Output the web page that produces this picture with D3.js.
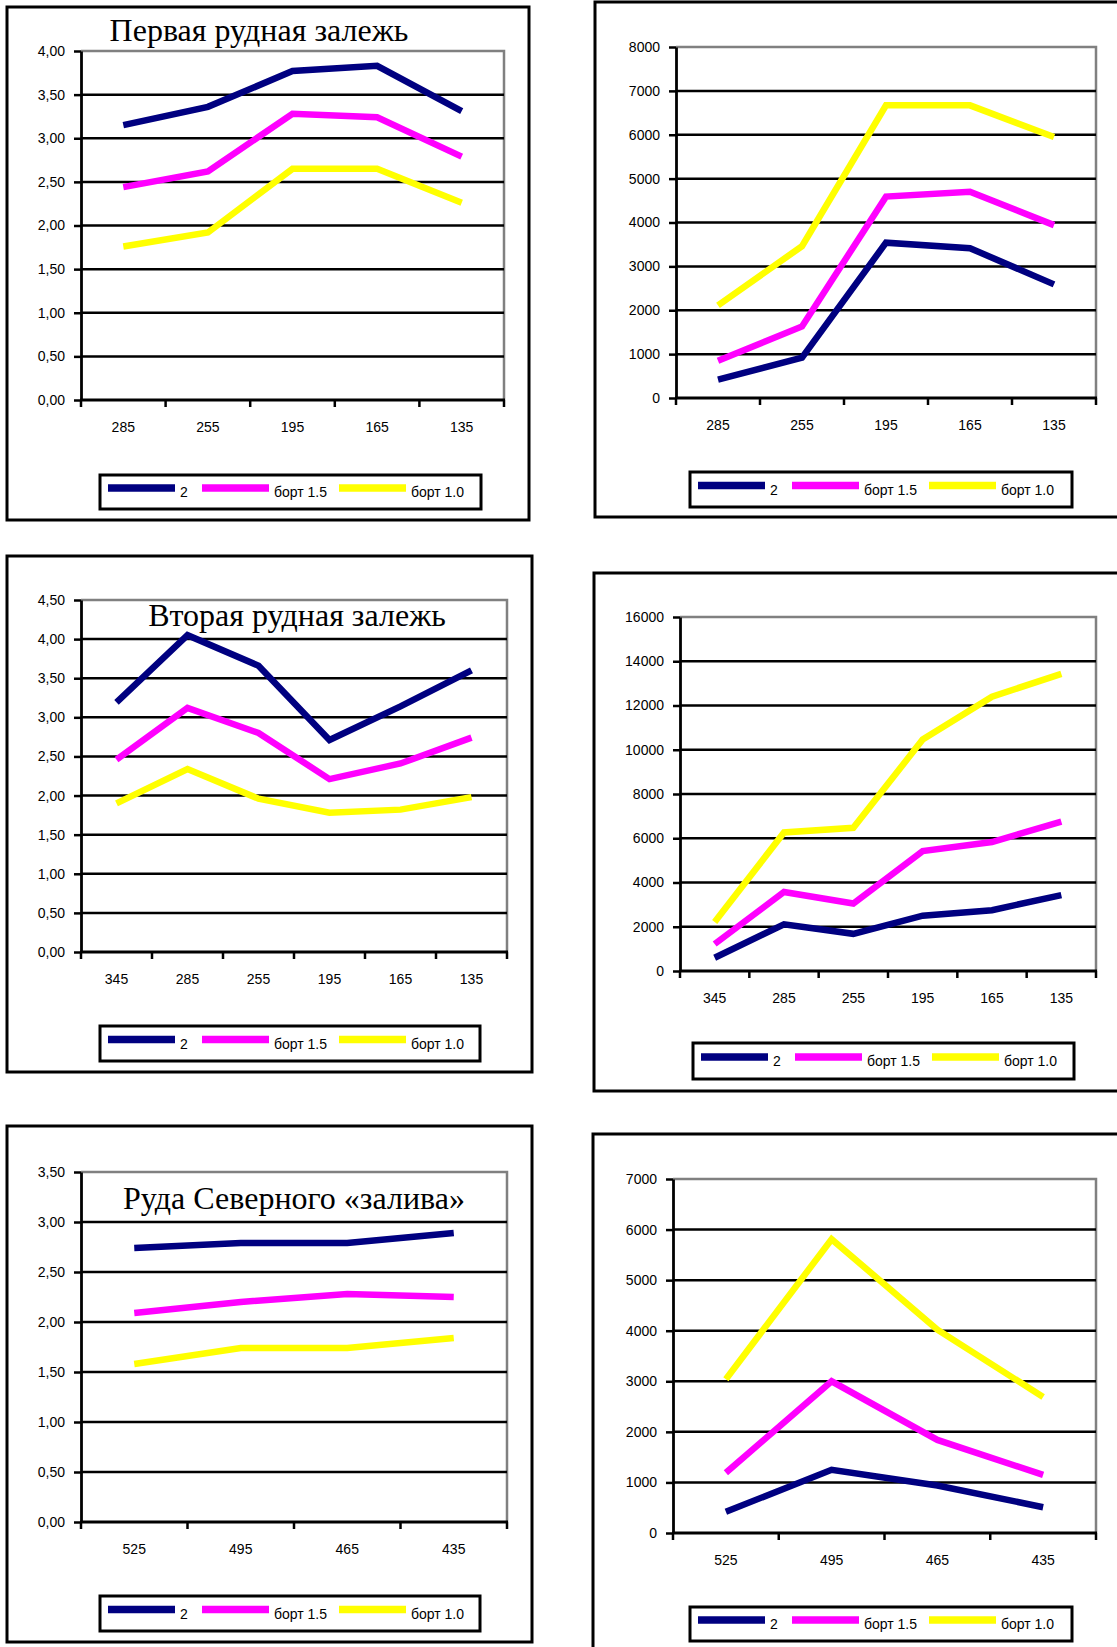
<!DOCTYPE html>
<html>
<head>
<meta charset="utf-8">
<script src="https://cdn.jsdelivr.net/npm/d3@7/dist/d3.min.js"></script>
<style>
  body { margin: 0; background: #fff; }
  svg { display: block; }
</style>
</head>
<body>
<script>
// depth levels (x categories)
const depthsA = ["285", "255", "195", "165", "135"];
const depthsB = ["345", "285", "255", "195", "165", "135"];
const depthsC = ["525", "495", "465", "435"];

const seriesNames = ["2", "борт 1.5", "борт 1.0"];
const seriesColors = ["#000080", "#ff00ff", "#ffff00"];

// Первая рудная залежь
const grade1Main = [3.15, 3.36, 3.77, 3.83, 3.31];
const grade1B15 = [2.44, 2.62, 3.28, 3.24, 2.79];
const grade1B10 = [1.76, 1.92, 2.65, 2.65, 2.26];
const tons1Main = [420, 920, 3540, 3415, 2590];
const tons1B15 = [850, 1630, 4590, 4700, 3940];
const tons1B10 = [2110, 3460, 6670, 6670, 5950];

// Вторая рудная залежь
const grade2Main = [3.19, 4.05, 3.66, 2.71, 3.14, 3.60];
const grade2B15 = [2.46, 3.12, 2.80, 2.21, 2.41, 2.74];
const grade2B10 = [1.90, 2.34, 1.96, 1.78, 1.82, 1.98];
const tons2Main = [600, 2110, 1680, 2500, 2750, 3430];
const tons2B15 = [1220, 3570, 3050, 5420, 5830, 6750];
const tons2B10 = [2210, 6260, 6470, 10460, 12400, 13430];

// Руда Северного «залива»
const grade3Main = [2.74, 2.79, 2.79, 2.89];
const grade3B15 = [2.09, 2.20, 2.28, 2.25];
const grade3B10 = [1.58, 1.74, 1.74, 1.84];
const tons3Main = [420, 1250, 940, 510];
const tons3B15 = [1190, 3000, 1840, 1150];
const tons3B10 = [3040, 5810, 4020, 2690];

// y tick values
const ticksGrade40 = [0, 0.5, 1, 1.5, 2, 2.5, 3, 3.5, 4];
const ticksGrade45 = [0, 0.5, 1, 1.5, 2, 2.5, 3, 3.5, 4, 4.5];
const ticksGrade35 = [0, 0.5, 1, 1.5, 2, 2.5, 3, 3.5];
const ticksTons8 = [0, 1000, 2000, 3000, 4000, 5000, 6000, 7000, 8000];
const ticksTons16 = [0, 2000, 4000, 6000, 8000, 10000, 12000, 14000, 16000];
const ticksTons7 = [0, 1000, 2000, 3000, 4000, 5000, 6000, 7000];

const W = 1117, H = 1647;
const svg = d3.select("body").append("svg")
    .attr("width", W)
    .attr("height", H);

const commaFmt = v => d3.format(".2f")(v).replace(".", ",");
const intFmt = d3.format("d");

// layout of the six panels
const panels = [
    { box: [7, 7, 529, 520], plot: [81, 51, 504, 400], legend: [100, 475, 481, 509],
      cats: depthsA, series: [grade1Main, grade1B15, grade1B10], ticks: ticksGrade40, fmt: commaFmt,
      title: "Первая рудная залежь", tx: 259, ty: 41 },
    { box: [595, 2, 1130, 517], plot: [676, 47, 1096, 398], legend: [690, 472, 1072, 507],
      cats: depthsA, series: [tons1Main, tons1B15, tons1B10], ticks: ticksTons8, fmt: intFmt },
    { box: [7, 556, 532, 1072], plot: [81, 600, 507, 952], legend: [100, 1026, 480, 1061],
      cats: depthsB, series: [grade2Main, grade2B15, grade2B10], ticks: ticksGrade45, fmt: commaFmt,
      title: "Вторая рудная залежь", tx: 297, ty: 626 },
    { box: [594, 573, 1130, 1091], plot: [680, 617, 1096, 971], legend: [693, 1043, 1074, 1079],
      cats: depthsB, series: [tons2Main, tons2B15, tons2B10], ticks: ticksTons16, fmt: intFmt },
    { box: [7, 1126, 532, 1642], plot: [81, 1172, 507, 1522], legend: [100, 1596, 480, 1631],
      cats: depthsC, series: [grade3Main, grade3B15, grade3B10], ticks: ticksGrade35, fmt: commaFmt,
      title: "Руда Северного «залива»", tx: 294, ty: 1209 },
    { box: [593, 1134, 1130, 1660], plot: [673, 1179, 1096, 1533], legend: [690, 1607, 1072, 1641],
      cats: depthsC, series: [tons3Main, tons3B15, tons3B10], ticks: ticksTons7, fmt: intFmt }
];

const legendOffsets = [8, 102, 239];

panels.forEach(p => {
    const g = svg.append("g");
    const [bx0, by0, bx1, by1] = p.box;
    const [x0, y0, x1, y1] = p.plot;

    g.append("rect")
        .attr("x", bx0).attr("y", by0)
        .attr("width", bx1 - bx0).attr("height", by1 - by0)
        .attr("fill", "#fff")
        .attr("stroke", "#000")
        .attr("stroke-width", 3);

    const x = d3.scaleBand().domain(p.cats).range([x0, x1]);
    const y = d3.scaleLinear().domain([0, d3.max(p.ticks)]).range([y1, y0]);

    // gray frame on top and right of plot area
    g.append("path")
        .attr("d", `M${x0},${y0}H${x1}V${y1}`)
        .attr("fill", "none")
        .attr("stroke", "#808080")
        .attr("stroke-width", 2.5);

    // gridlines
    g.selectAll(".grid")
        .data(p.ticks.slice(1, -1))
        .join("line")
        .attr("x1", x0).attr("x2", x1)
        .attr("y1", d => y(d)).attr("y2", d => y(d))
        .attr("stroke", "#000")
        .attr("stroke-width", 2.5);

    // y axis
    const yAxis = g.append("g")
        .attr("transform", `translate(${x0},0)`)
        .call(d3.axisLeft(y).tickValues(p.ticks).tickFormat(p.fmt)
            .tickSize(7).tickSizeOuter(0).tickPadding(9));
    yAxis.select(".domain").attr("stroke-width", 2.8);
    yAxis.selectAll(".tick line").attr("stroke-width", 2.5);
    yAxis.selectAll("text")
        .attr("font-family", "'Liberation Sans', Arial, sans-serif")
        .attr("font-size", 14)
        .attr("fill", "#000");

    // x axis line, boundary ticks, labels
    g.append("line")
        .attr("x1", x0 - 1).attr("x2", x1 + 1)
        .attr("y1", y1).attr("y2", y1)
        .attr("stroke", "#000").attr("stroke-width", 2.8);
    const bounds = p.cats.map(c => x(c)).concat([x1]);
    g.selectAll(".xt")
        .data(bounds)
        .join("line")
        .attr("x1", d => d).attr("x2", d => d)
        .attr("y1", y1).attr("y2", y1 + 7)
        .attr("stroke", "#000").attr("stroke-width", 2.5);
    g.selectAll(".xl")
        .data(p.cats)
        .join("text")
        .attr("x", d => x(d) + x.bandwidth() / 2)
        .attr("y", y1 + 32)
        .attr("text-anchor", "middle")
        .attr("font-family", "'Liberation Sans', Arial, sans-serif")
        .attr("font-size", 14)
        .text(d => d);

    // series lines
    const line = d3.line()
        .x((d, i) => x(p.cats[i]) + x.bandwidth() / 2)
        .y(d => y(d));
    p.series.forEach((s, i) => {
        g.append("path")
            .datum(s)
            .attr("d", line)
            .attr("fill", "none")
            .attr("stroke", seriesColors[i])
            .attr("stroke-width", 6.5)
            .attr("stroke-linejoin", "miter");
    });

    if (p.title) {
        g.append("text")
            .attr("x", p.tx).attr("y", p.ty)
            .attr("text-anchor", "middle")
            .attr("font-family", "'Liberation Serif', 'Times New Roman', serif")
            .attr("font-size", 32)
            .text(p.title);
    }

    // legend
    const [lx0, ly0, lx1, ly1] = p.legend;
    g.append("rect")
        .attr("x", lx0).attr("y", ly0)
        .attr("width", lx1 - lx0).attr("height", ly1 - ly0)
        .attr("fill", "#fff")
        .attr("stroke", "#000").attr("stroke-width", 3);
    const ly = (ly0 + ly1) / 2;
    seriesNames.forEach((name, i) => {
        const sx = lx0 + legendOffsets[i];
        g.append("line")
            .attr("x1", sx).attr("x2", sx + 67)
            .attr("y1", ly - 4).attr("y2", ly - 4)
            .attr("stroke", seriesColors[i]).attr("stroke-width", 7.5);
        g.append("text")
            .attr("x", sx + 72).attr("y", ly + 5)
            .attr("font-family", "'Liberation Sans', Arial, sans-serif")
            .attr("font-size", 14)
            .text(name);
    });
});
</script>
</body>
</html>
